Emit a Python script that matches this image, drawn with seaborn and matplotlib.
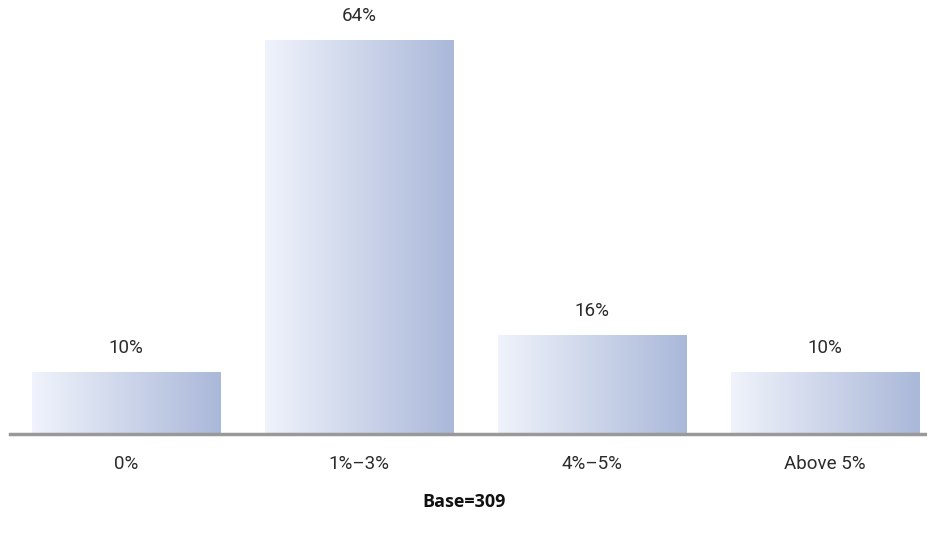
import numpy as np
import pandas as pd
import matplotlib
matplotlib.use("Agg")
import matplotlib.pyplot as plt
import seaborn as sns
from matplotlib.colors import LinearSegmentedColormap

categories = ["0%", "1%–3%", "4%–5%", "Above 5%"]
shares = [10, 64, 16, 10]
value_labels = ["10%", "64%", "16%", "10%"]
base_note = "Base=309"

sns.set_theme(style="white")
plt.rcParams["font.family"] = ["Roboto", "DejaVu Sans"]

df = pd.DataFrame({"category": categories, "share": shares})

fig = plt.figure(figsize=(9.28, 5.39), dpi=100)
ax = fig.add_axes([10 / 928, 105 / 539, 918 / 928, 431 / 539])

sns.barplot(data=df, x="category", y="share", ax=ax, width=0.807,
            color="#c8d0e6", saturation=1)

# horizontal white-to-steel-blue gradient inside each bar
grad = LinearSegmentedColormap.from_list("barfade", ["#f0f3fb", "#aab8d9"])
ramp = np.linspace(0, 1, 256).reshape(1, -1)
for patch in ax.patches:
    x0, y0 = patch.get_x(), patch.get_y()
    w, h = patch.get_width(), patch.get_height()
    patch.set_facecolor("none")
    patch.set_edgecolor("none")
    im = ax.imshow(ramp, cmap=grad, aspect="auto", extent=(x0, x0 + w, y0, y0 + h),
                   interpolation="bilinear", zorder=2)
    im.set_clip_path(patch)

ax.set_xlim(-0.498, 3.442)
ax.set_ylim(0, 70)

for i, (v, lab) in enumerate(zip(shares, value_labels)):
    ax.annotate(lab, (i, v), xytext=(0, 11), textcoords="offset points",
                ha="center", va="bottom", fontsize=13.5, fontweight="normal",
                color="#2b2b2b")

for s in ["top", "right", "left"]:
    ax.spines[s].set_visible(False)
ax.spines["bottom"].set_color("#999999")
ax.spines["bottom"].set_linewidth(2.5)
ax.spines["bottom"].set_zorder(5)

ax.set_yticks([])
ax.set_xlabel("")
ax.set_ylabel("")
ax.tick_params(axis="x", length=0, pad=15, labelsize=13.5, labelcolor="#2b2b2b")

fig.text(0.5, 1 - 502 / 539, base_note, ha="center", va="center",
         fontsize=13, fontweight="bold", color="#111111",
         family=["Open Sans", "DejaVu Sans"])

fig.savefig("out.png", dpi=100)
